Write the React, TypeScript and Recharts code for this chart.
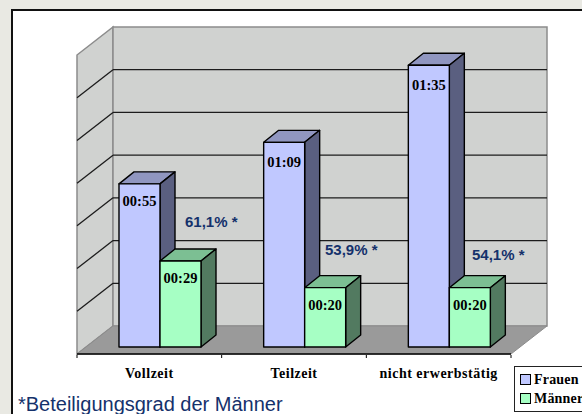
import { BarChart, Bar, XAxis, YAxis, Legend, LabelList } from "recharts";

const categories = ["Vollzeit", "Teilzeit", "nicht erwerbstätig"];
const frauenMinutes = [55, 69, 95];
const maennerMinutes = [29, 20, 20];
const maennerShare = ["61,1% *", "53,9% *", "54,1% *"];
// gridlines every 0.01 day, like the spreadsheet's time axis
const gridMinutes = [14.4, 28.8, 43.2, 57.6, 72, 86.4, 100.8];

const chartData = categories.map((name, i) => ({
  name,
  Frauen: frauenMinutes[i],
  "Männer": maennerMinutes[i],
}));

// front plane of the 3D box
const axisHeight = 60;
const margin = { top: 55, right: 71, bottom: 0, left: 77 };
const chartW = 582;
const chartH = 414;
const plotW = chartW - margin.left - margin.right;
const plotH = chartH - margin.top - margin.bottom - axisHeight;
const plotBottom = margin.top + plotH;
const plotRight = margin.left + plotW;
const band = plotW / categories.length;
const yMax = gridMinutes[gridMinutes.length - 1];

const wallDepth = { dx: 36, dy: -28 };
const barInset = { dx: 11, dy: -7 };
const barDepth = { dx: 15, dy: -12 };

const shareOffsets = [
  { x: 185, y: 227 },
  { x: 325, y: 255 },
  { x: 472, y: 260 },
];

const frauenColors = { front: "#c0c8ff", top: "#9096c0", side: "#5a5f80" };
const maennerColors = { front: "#a6ffc4", top: "#7cbf93", side: "#527a60" };

const serif = "'Liberation Serif', serif";
const sans = "'Liberation Sans', sans-serif";
const navy = "#14316b";

const toClock = (min: number) => {
  const h = Math.floor(min / 60);
  const m = min % 60;
  return `${String(h).padStart(2, "0")}:${String(m).padStart(2, "0")}`;
};

function Walls() {
  const left = margin.left;
  const { dx, dy } = wallDepth;
  const backBottom = plotBottom + dy;
  return (
    <g>
      <polygon
        points={`${left},${margin.top} ${left + dx},${margin.top + dy} ${left + dx},${backBottom} ${left},${plotBottom}`}
        fill="#d0d2d0"
        stroke="#8c8c8c"
        strokeWidth={1.5}
      />
      <rect
        x={left + dx}
        y={margin.top + dy}
        width={plotW}
        height={plotH}
        fill="#d0d2d0"
        stroke="#8c8c8c"
        strokeWidth={1.5}
      />
      <polygon
        points={`${left},${plotBottom} ${left + dx},${backBottom} ${plotRight + dx},${backBottom} ${plotRight},${plotBottom}`}
        fill="#9a9a9a"
        stroke="#8c8c8c"
      />
      {gridMinutes.slice(0, -1).map((v) => {
        const y = plotBottom - (v / yMax) * plotH;
        return (
          <g key={v} stroke="#1c1c1c" strokeWidth={1.3}>
            <line x1={left} y1={y} x2={left + dx} y2={y + dy} />
            <line x1={left + dx} y1={y + dy} x2={plotRight + dx} y2={y + dy} />
          </g>
        );
      })}
    </g>
  );
}

function Box3D(props: any) {
  const { x, y, width, height, colors } = props;
  const l = x + barInset.dx;
  const t = y + barInset.dy;
  const r = l + width;
  const b = t + height;
  const { dx, dy } = barDepth;
  return (
    <g stroke="#000" strokeWidth={1.4} strokeLinejoin="round">
      <polygon points={`${l},${t} ${l + dx},${t + dy} ${r + dx},${t + dy} ${r},${t}`} fill={colors.top} />
      <polygon points={`${r},${t} ${r + dx},${t + dy} ${r + dx},${b + dy} ${r},${b}`} fill={colors.side} />
      <rect x={l} y={t} width={width} height={height} fill={colors.front} />
    </g>
  );
}

function TimeLabel(props: any) {
  const { x, y, width, value } = props;
  return (
    <text
      x={x + barInset.dx + width / 2}
      y={y + barInset.dy + (value > 60 ? 25 : 22)}
      textAnchor="middle"
      fontFamily={serif}
      fontWeight="bold"
      fontSize={14.5}
      fill="#000"
    >
      {toClock(value)}
    </text>
  );
}

function CategoryTick(props: any) {
  const { x, payload, index } = props;
  const isLast = index === categories.length - 1;
  return (
    <g>
      <line x1={x - band / 2} y1={plotBottom + 1} x2={x - band / 2} y2={plotBottom + 4} stroke="#000" />
      {isLast && <line x1={x + band / 2} y1={plotBottom + 1} x2={x + band / 2} y2={plotBottom + 4} stroke="#000" />}
      <text
        x={x}
        y={plotBottom + 24}
        textAnchor="middle"
        fontFamily={serif}
        fontWeight="bold"
        fontSize={14}
        letterSpacing={0.5}
        fill="#000"
      >
        {payload.value}
      </text>
    </g>
  );
}

function LegendBox() {
  const rows = [
    { name: "Frauen", color: frauenColors.front },
    { name: "Männer", color: maennerColors.front },
  ];
  return (
    <div
      style={{
        width: 80,
        height: 41,
        border: "1.5px solid #222",
        background: "#fff",
        boxSizing: "content-box",
        paddingTop: 3,
      }}
    >
      {rows.map((row) => (
        <div key={row.name} style={{ display: "flex", alignItems: "center", height: 19, paddingLeft: 5 }}>
          <span
            style={{
              display: "inline-block",
              width: 9,
              height: 9,
              background: row.color,
              border: "1px solid #000",
              marginRight: 3,
            }}
          />
          <span style={{ fontFamily: serif, fontWeight: "bold", fontSize: 14, letterSpacing: 0.2, color: "#000" }}>
            {row.name}
          </span>
        </div>
      ))}
    </div>
  );
}

export default function App() {
  return (
    <div
      style={{
        position: "absolute",
        left: 0,
        top: 0,
        width: chartW,
        height: chartH,
        overflow: "hidden",
        background: "#e9e9e3",
      }}
    >
      <div
        style={{
          position: "absolute",
          left: 11,
          top: 9,
          width: chartW,
          height: chartH,
          background: "#fff",
          borderLeft: "2px solid #111",
          borderTop: "2px solid #111",
        }}
      />
      <div style={{ position: "absolute", left: 0, top: 0 }}>
        <BarChart width={chartW} height={chartH} data={chartData} margin={margin} barSize={41} barGap={0}>
          <Walls />
          <XAxis
            dataKey="name"
            tickLine={false}
            tick={<CategoryTick />}
            axisLine={{ stroke: "#000", strokeWidth: 1.5 }}
            interval={0}
            height={axisHeight}
          />
          <YAxis hide domain={[0, yMax]} ticks={gridMinutes} />
          <Legend
            layout="horizontal"
            align="center"
            verticalAlign="middle"
            content={<LegendBox />}
            wrapperStyle={{ position: "absolute", left: 514, top: 366, width: 84, bottom: "auto" }}
          />
          <Bar dataKey="Frauen" isAnimationActive={false} shape={<Box3D colors={frauenColors} />}>
            <LabelList dataKey="Frauen" content={<TimeLabel />} />
          </Bar>
          <Bar dataKey="Männer" isAnimationActive={false} shape={<Box3D colors={maennerColors} />}>
            <LabelList dataKey="Männer" content={<TimeLabel />} />
          </Bar>
          {maennerShare.map((label, i) => (
            <text
              key={label}
              x={shareOffsets[i].x}
              y={shareOffsets[i].y}
              fontFamily={sans}
              fontWeight="bold"
              fontSize={15}
              fill={navy}
            >
              {label}
            </text>
          ))}
          <text x={18} y={411} fontFamily={sans} fontSize={20} fill={navy}>
            *Beteiligungsgrad der Männer
          </text>
        </BarChart>
      </div>
    </div>
  );
}
